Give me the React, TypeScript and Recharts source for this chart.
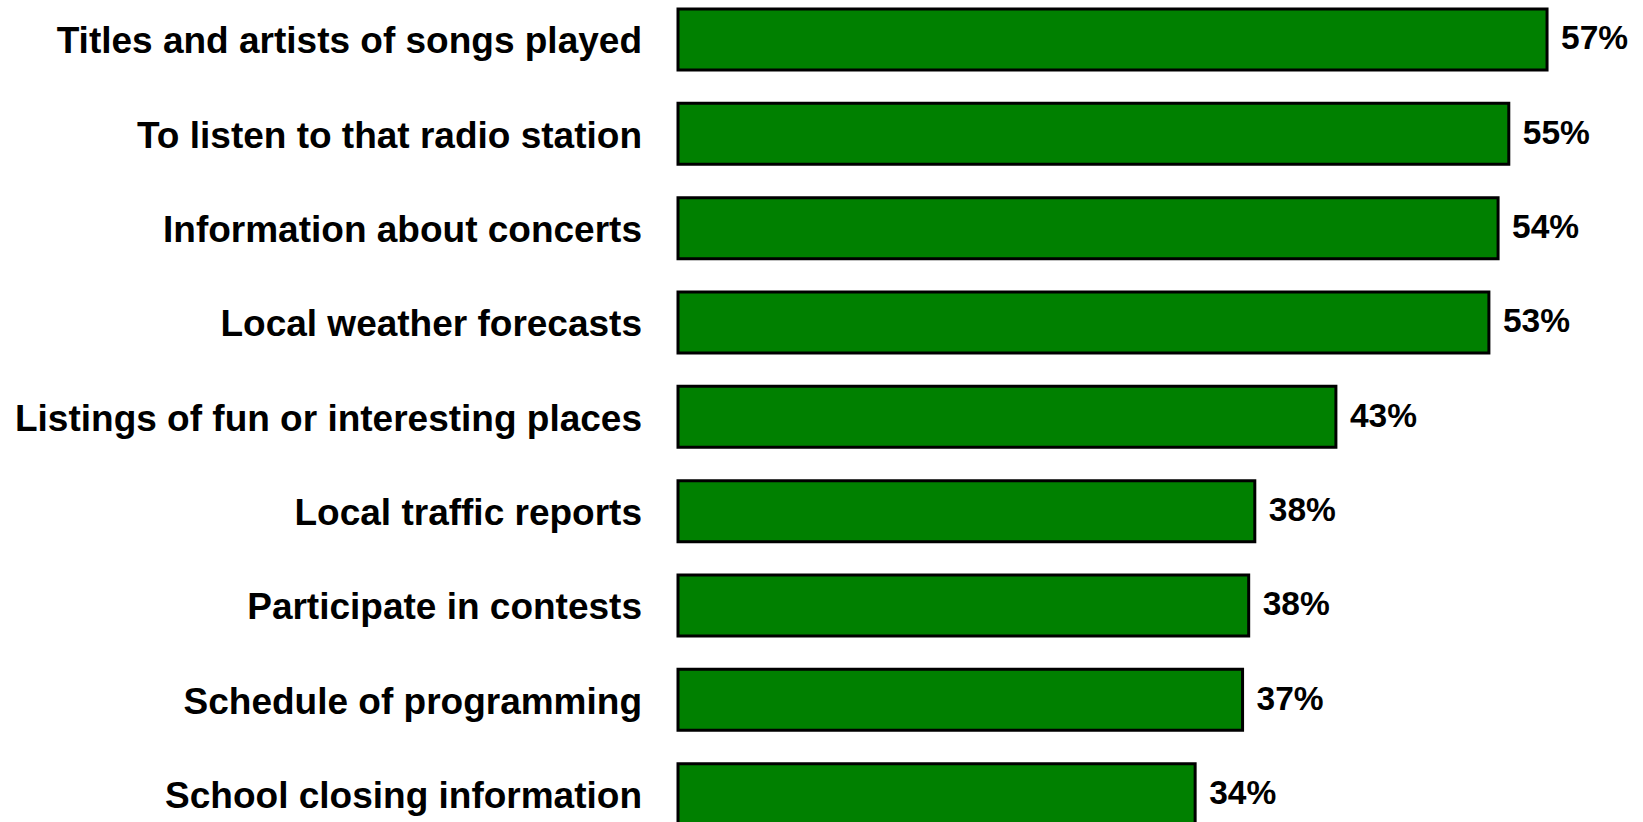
import { BarChart, Bar, XAxis, YAxis, LabelList } from "recharts";

// ─── Data ────────────────────────────────────────────────────────────────────

const categories = [
  "Titles and artists of songs played",
  "To listen to that radio station",
  "Information about concerts",
  "Local weather forecasts",
  "Listings of fun or interesting places",
  "Local traffic reports",
  "Participate in contests",
  "Schedule of programming",
  "School closing information",
];

// bar lengths (percent)
const values = [56.8, 54.3, 53.6, 53.0, 43.0, 37.7, 37.3, 36.9, 33.8];

// printed value labels
const valueLabels = ["57%", "55%", "54%", "53%", "43%", "38%", "38%", "37%", "34%"];

// ─── Constants ───────────────────────────────────────────────────────────────

const BAR_COLOR = "#008000";
const FONT = "'Liberation Sans', Arial, sans-serif";

const data = categories.map((name, i) => ({
  name,
  value: values[i],
  label: valueLabels[i],
}));

// ─── Component ───────────────────────────────────────────────────────────────

export default function App() {
  return (
    <div
      style={{
        position: "absolute",
        left: 0,
        top: 0,
        width: 1643,
        height: 822,
        overflow: "hidden",
        background: "#fff",
      }}
    >
      <div style={{ position: "absolute", left: 0, top: -8 }}>
        <BarChart
          width={1643}
          height={849}
          data={data}
          layout="vertical"
          margin={{ top: 0, right: 47, bottom: 0, left: 0 }}
        >
          <XAxis type="number" domain={[0, 60]} hide />
          <YAxis
            type="category"
            dataKey="name"
            width={678}
            interval={0}
            tickSize={0}
            tickMargin={36}
            axisLine={false}
            tickLine={false}
            tick={{
              fontSize: 37,
              fontWeight: 700,
              fill: "#000",
              fontFamily: FONT,
              dy: 1,
            }}
          />
          <Bar
            dataKey="value"
            fill={BAR_COLOR}
            stroke="#000"
            strokeWidth={3}
            barSize={61}
            isAnimationActive={false}
          >
            <LabelList
              dataKey="label"
              position="right"
              offset={14}
              dy={-2}
              style={{
                fontSize: 33.5,
                fontWeight: 700,
                fill: "#000",
                fontFamily: FONT,
              }}
            />
          </Bar>
        </BarChart>
      </div>
    </div>
  );
}
